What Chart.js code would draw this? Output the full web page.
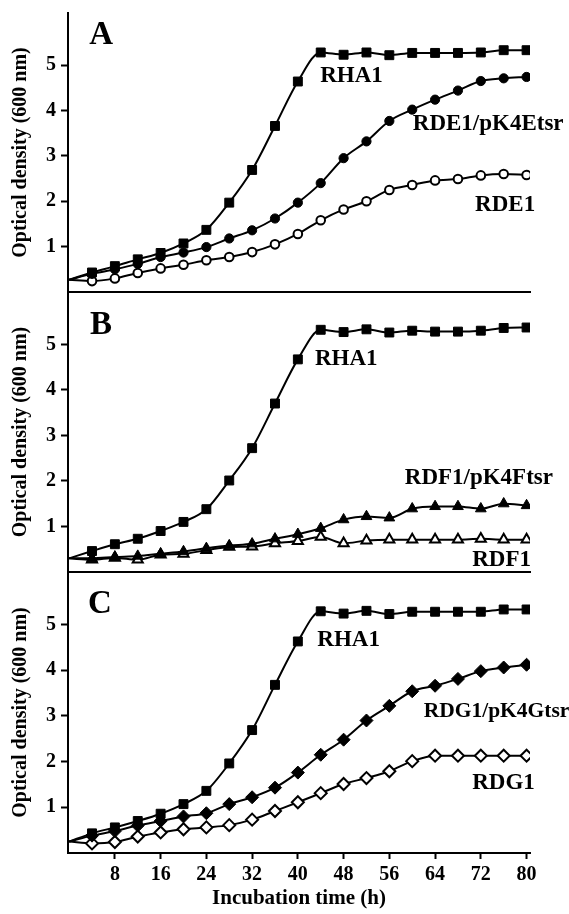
<!DOCTYPE html>
<html>
<head>
<meta charset="utf-8">
<script src="https://cdn.jsdelivr.net/npm/chart.js@4.4.1/dist/chart.umd.min.js"></script>
<style>
  body { margin: 0; background: #fff; width: 569px; height: 914px; overflow: hidden; position: relative; }
  .panel { position: absolute; left: 0; width: 569px; }
</style>
</head>
<body>
<div class="panel" style="top:0;height:300px"><canvas id="chart-a"></canvas></div>
<div class="panel" style="top:292px;height:288px"><canvas id="chart-b"></canvas></div>
<div class="panel" style="top:572px;height:342px"><canvas id="chart-c"></canvas></div>
<script>
// sampling times (h)
const hours = [4, 8, 12, 16, 20, 24, 28, 32, 36, 40, 44, 48, 52, 56, 60, 64, 68, 72, 76, 80];
const xTicks = [8, 16, 24, 32, 40, 48, 56, 64, 72, 80];
const yTicks = [1, 2, 3, 4, 5];
// OD at t = 0 where the curves start, panels A, B, C
const startOD = [0.27, 0.30, 0.25];

// panel A
const rha1A = [0.43, 0.57, 0.72, 0.86, 1.07, 1.37, 1.97, 2.69, 3.66, 4.64, 5.28, 5.23, 5.28, 5.22, 5.27, 5.27, 5.27, 5.28, 5.33, 5.33];
const rde1pK4Etsr = [0.40, 0.50, 0.62, 0.77, 0.87, 0.99, 1.18, 1.36, 1.62, 1.97, 2.40, 2.95, 3.32, 3.77, 4.02, 4.24, 4.44, 4.65, 4.71, 4.74];
const rde1 = [0.24, 0.30, 0.42, 0.52, 0.60, 0.70, 0.77, 0.88, 1.05, 1.28, 1.58, 1.82, 2.00, 2.25, 2.36, 2.46, 2.49, 2.57, 2.60, 2.58];

// panel B
const rha1B = [0.46, 0.61, 0.73, 0.90, 1.10, 1.38, 2.01, 2.72, 3.70, 4.67, 5.32, 5.27, 5.33, 5.26, 5.30, 5.28, 5.28, 5.30, 5.36, 5.37];
const rdf1pK4Ftsr = [0.30, 0.33, 0.35, 0.40, 0.45, 0.52, 0.58, 0.62, 0.73, 0.83, 0.96, 1.15, 1.22, 1.19, 1.39, 1.44, 1.44, 1.39, 1.50, 1.46];
const rdf1 = [0.27, 0.31, 0.27, 0.38, 0.40, 0.48, 0.55, 0.56, 0.63, 0.68, 0.77, 0.63, 0.69, 0.71, 0.71, 0.71, 0.71, 0.73, 0.71, 0.71];

// panel C
const rha1C = [0.43, 0.56, 0.70, 0.86, 1.07, 1.36, 1.96, 2.69, 3.68, 4.63, 5.29, 5.24, 5.30, 5.23, 5.28, 5.28, 5.28, 5.28, 5.33, 5.33];
const rdg1pK4Gtsr = [0.38, 0.48, 0.60, 0.70, 0.80, 0.87, 1.07, 1.22, 1.43, 1.76, 2.15, 2.48, 2.90, 3.22, 3.54, 3.66, 3.81, 3.98, 4.06, 4.12];
const rdg1 = [0.21, 0.24, 0.36, 0.45, 0.52, 0.56, 0.61, 0.73, 0.92, 1.11, 1.31, 1.51, 1.64, 1.79, 2.01, 2.13, 2.13, 2.13, 2.13, 2.13];

const FONT = '"Liberation Serif", "Times New Roman", serif';
Chart.defaults.color = '#000';
Chart.defaults.font.family = FONT;
Chart.defaults.font.weight = 'bold';

// marker looks
const markers = {
  square:      { pointStyle: 'rect',     radius: 6.3, fill: '#000', border: 1 },
  dot:         { pointStyle: 'circle',   radius: 4.6, fill: '#000', border: 1 },
  ring:        { pointStyle: 'circle',   radius: 4.3, fill: '#fff', border: 2 },
  triangle:    { pointStyle: 'triangle', radius: 6.2, fill: '#000', border: 1 },
  openTri:     { pointStyle: 'triangle', radius: 5.8, fill: '#fff', border: 2 },
  diamond:     { pointStyle: 'rectRot',  radius: 6.5, fill: '#000', border: 1 },
  openDiamond: { pointStyle: 'rectRot',  radius: 6,   fill: '#fff', border: 2 }
};

const makeDataset = (name, values, start, look) => {
  const m = markers[look];
  return {
    label: name,
    data: [{ x: 0, y: start }].concat(hours.map((h, i) => ({ x: h, y: values[i] }))),
    borderColor: '#000',
    borderWidth: 2,
    fill: false,
    cubicInterpolationMode: 'monotone',
    pointStyle: m.pointStyle,
    pointRadius: ctx => ctx.dataIndex === 0 ? 0 : m.radius,
    pointBackgroundColor: m.fill,
    pointBorderColor: '#000',
    pointBorderWidth: m.border
  };
};

// text drawn inside the plots, positioned in data units
const textPlugin = {
  id: 'panelText',
  afterDatasetsDraw(chart, args, opts) {
    const ctx = chart.ctx;
    const xs = chart.scales.x, ys = chart.scales.y;
    ctx.save();
    ctx.fillStyle = '#000';
    ctx.textAlign = 'left';
    ctx.textBaseline = 'middle';
    opts.items.forEach(item => {
      ctx.font = 'bold ' + (item.size || 23) + 'px ' + FONT;
      ctx.fillText(item.text, xs.getPixelForValue(item.x), ys.getPixelForValue(item.y));
    });
    ctx.restore();
  }
};

// stop the scales from reserving room for half a tick label at the ends
const noEdgePadding = s => {
  s.paddingTop = 0;
  s.paddingBottom = 0;
  s.paddingLeft = 0;
  s.paddingRight = 0;
};

const makeChart = (id, datasets, items, opts) => {
  const bottomAxis = opts.bottomAxis;
  return new Chart(document.getElementById(id), {
    type: 'line',
    data: { datasets },
    plugins: [textPlugin],
    options: {
      responsive: true,
      maintainAspectRatio: false,
      animation: false,
      events: [],
      layout: { autoPadding: false, padding: { top: opts.top, bottom: opts.bottom, left: 0, right: 39 } },
      plugins: {
        legend: { display: false },
        tooltip: { enabled: false },
        panelText: { items }
      },
      scales: {
        x: {
          type: 'linear',
          min: -0.2,
          max: 80.6,
          afterBuildTicks: s => { s.ticks = xTicks.map(v => ({ value: v })); },
          afterFit: s => { s.height = bottomAxis ? 61 : 0; noEdgePadding(s); },
          border: { display: true, color: '#000', width: 2 },
          grid: { display: bottomAxis, drawOnChartArea: false, drawTicks: true, tickLength: 6, tickWidth: 2, tickColor: '#000' },
          ticks: { display: bottomAxis, padding: 4, font: { size: 20, weight: 'bold' } },
          title: {
            display: bottomAxis,
            text: 'Incubation time (h)',
            padding: { top: 0, bottom: 3 },
            font: { size: 21, weight: 'bold' }
          }
        },
        y: {
          type: 'linear',
          min: 0,
          max: 6.15,
          afterBuildTicks: s => { s.ticks = yTicks.map(v => ({ value: v })); },
          afterFit: s => { s.width = 68; noEdgePadding(s); },
          border: { display: true, color: '#000', width: 2 },
          grid: { drawOnChartArea: false, drawTicks: true, tickLength: 7, tickWidth: 2, tickColor: '#000' },
          ticks: { padding: 5, font: { size: 20, weight: 'bold' } },
          title: {
            display: true,
            text: 'Optical density (600 nm)',
            padding: { top: 9, bottom: 0 },
            font: { size: 20, weight: 'bold' }
          }
        }
      }
    }
  });
};

makeChart('chart-a', [
  makeDataset('RHA1', rha1A, startOD[0], 'square'),
  makeDataset('RDE1/pK4Etsr', rde1pK4Etsr, startOD[0], 'dot'),
  makeDataset('RDE1', rde1, startOD[0], 'ring')
], [
  { text: 'A', x: 3.5, y: 5.66, size: 33 },
  { text: 'RHA1', x: 43.9, y: 4.77 },
  { text: 'RDE1/pK4Etsr', x: 60.1, y: 3.71 },
  { text: 'RDE1', x: 71.0, y: 1.91 }
], { top: 13, bottom: 8, bottomAxis: false });

makeChart('chart-b', [
  makeDataset('RHA1', rha1B, startOD[1], 'square'),
  makeDataset('RDF1/pK4Ftsr', rdf1pK4Ftsr, startOD[1], 'triangle'),
  makeDataset('RDF1', rdf1, startOD[1], 'openTri')
], [
  { text: 'B', x: 3.65, y: 5.41, size: 33 },
  { text: 'RHA1', x: 43.0, y: 4.68 },
  { text: 'RDF1/pK4Ftsr', x: 58.7, y: 2.07 },
  { text: 'RDF1', x: 70.5, y: 0.26 }
], { top: 0, bottom: 8, bottomAxis: false });

makeChart('chart-c', [
  makeDataset('RHA1', rha1C, startOD[2], 'square'),
  makeDataset('RDG1/pK4Gtsr', rdg1pK4Gtsr, startOD[2], 'diamond'),
  makeDataset('RDG1', rdg1, startOD[2], 'openDiamond')
], [
  { text: 'C', x: 3.3, y: 5.45, size: 33 },
  { text: 'RHA1', x: 43.4, y: 4.66 },
  { text: 'RDG1/pK4Gtsr', x: 62.0, y: 3.10, size: 21.5 },
  { text: 'RDG1', x: 70.5, y: 1.54 }
], { top: 0, bottom: 0, bottomAxis: true });
</script>
</body>
</html>
